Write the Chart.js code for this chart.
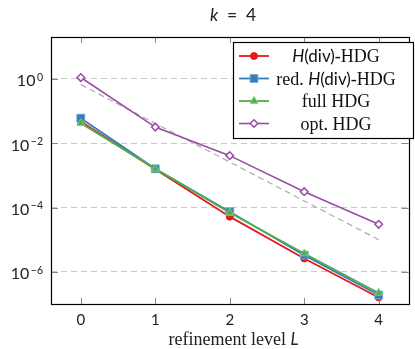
<!DOCTYPE html>
<html>
<head>
<meta charset="utf-8">
<script src="https://cdn.jsdelivr.net/npm/chart.js@4.4.0/dist/chart.umd.min.js"></script>
<style>
  html, body { margin: 0; padding: 0; background: #fff; }
  #wrap { width: 415px; height: 349px; }
</style>
</head>
<body>
<div id="wrap"><canvas id="chart"></canvas></div>
<script>
// refinement levels and errors
const levels = [0, 1, 2, 3, 4];
const hdivHdg = [0.047, 1.55e-3, 5.2e-5, 2.6e-6, 1.6e-7];
const redHdivHdg = [0.060, 1.6e-3, 7.4e-5, 3.3e-6, 1.9e-7];
const fullHdg = [0.042, 1.6e-3, 6.9e-5, 3.7e-6, 2.2e-7];
const optHdg = [1.1, 0.0316, 4.1e-3, 3.1e-4, 3.0e-5];
const refRate = [0.66, 0.041, 2.6e-3, 1.6e-4, 1.0e-5];
const yTicks = [1, 1e-2, 1e-4, 1e-6];
const yTickExp = ['0', '\u22122', '\u22124', '\u22126'];

const SANS = 'Lato';
const SERIF = '"Liberation Serif"';

// legend label pieces: [text, font]
const legendLabels = [
  [['H', 'italic 17px ' + SANS], ['(div)', '17px ' + SANS], ['-HDG', '18px ' + SERIF]],
  [['red. ', '18px ' + SERIF], ['H', 'italic 17px ' + SANS], ['(div)', '17px ' + SANS], ['-HDG', '18px ' + SERIF]],
  [['full HDG', '18px ' + SERIF]],
  [['opt. HDG', '18px ' + SERIF]]
];

function pts(vals) {
  return levels.map((l, i) => ({ x: l, y: vals[i] }));
}

function drawPieces(ctx, pieces, cx, baseline) {
  let w = 0;
  pieces.forEach(p => { ctx.font = p[1]; w += ctx.measureText(p[0]).width; });
  let x = cx - w / 2;
  ctx.textAlign = 'left';
  ctx.textBaseline = 'alphabetic';
  pieces.forEach(p => {
    ctx.font = p[1];
    ctx.fillText(p[0], x, baseline);
    x += ctx.measureText(p[0]).width;
  });
}

const decor = {
  id: 'decor',
  afterDraw(chart) {
    const { ctx, chartArea: a, scales: { x, y } } = chart;
    ctx.save();

    // tick marks inside the frame
    ctx.strokeStyle = '#888';
    ctx.lineWidth = 1;
    ctx.beginPath();
    levels.forEach(v => {
      const px = Math.round(x.getPixelForValue(v)) + 0.5;
      ctx.moveTo(px, a.top); ctx.lineTo(px, a.top + 6);
      ctx.moveTo(px, a.bottom); ctx.lineTo(px, a.bottom - 6);
    });
    yTicks.forEach(v => {
      const py = Math.round(y.getPixelForValue(v)) + 0.5;
      ctx.moveTo(a.left, py); ctx.lineTo(a.left + 7, py);
      ctx.moveTo(a.right, py); ctx.lineTo(a.right - 7, py);
    });
    ctx.stroke();

    // frame
    ctx.strokeStyle = '#000';
    ctx.lineWidth = 1.2;
    ctx.strokeRect(Math.round(a.left) + 0.5, Math.round(a.top) + 0.5,
      Math.round(a.right - a.left), Math.round(a.bottom - a.top));

    // y tick labels 10^n
    ctx.fillStyle = '#222';
    ctx.textBaseline = 'alphabetic';
    yTicks.forEach((v, i) => {
      const py = y.getPixelForValue(v);
      ctx.font = '10.5px ' + SANS;
      ctx.textAlign = 'right';
      const ew = ctx.measureText(yTickExp[i]).width;
      ctx.fillText(yTickExp[i], 43, py + 1.8);
      ctx.font = '16px ' + SANS;
      ctx.fillText('10', 43 - ew - 1.5, py + 7.6);
    });

    // title
    ctx.fillStyle = '#222';
    drawPieces(ctx, [['k', 'italic 17.5px ' + SANS], ['\u2002=\u20024', '17.5px ' + SANS]], 233, 21);

    // x axis title
    drawPieces(ctx, [['refinement level ', '18px ' + SERIF], ['L', 'italic 17px ' + SANS]], 233.5, 345);

    // legend
    const lx = 233, ly = 42, lw = 180, lh = 96;
    ctx.fillStyle = '#fff';
    ctx.fillRect(lx, ly, lw, lh);
    ctx.strokeStyle = '#000';
    ctx.lineWidth = 1.2;
    ctx.strokeRect(lx + 0.5, ly + 0.5, lw, lh);
    chart.data.datasets.slice(0, 4).forEach((ds, i) => {
      const ry = ly + 14 + i * 22.5;
      ctx.strokeStyle = ds.borderColor;
      ctx.lineWidth = ds.borderWidth;
      ctx.beginPath();
      ctx.moveTo(239, ry); ctx.lineTo(269, ry);
      ctx.stroke();
      ctx.fillStyle = ds.pointBackgroundColor;
      ctx.strokeStyle = ds.pointBorderColor;
      ctx.lineWidth = ds.pointBorderWidth;
      Chart.helpers.drawPoint(ctx, {
        pointStyle: ds.pointStyle, radius: ds.pointRadius, rotation: 0, borderWidth: ds.pointBorderWidth
      }, 254, ry);
      ctx.fillStyle = '#111';
      drawPieces(ctx, legendLabels[i], 336, ry + 6);
    });

    ctx.restore();
  }
};

new Chart(document.getElementById('chart'), {
  type: 'line',
  data: {
    datasets: [
      {
        label: 'H(div)-HDG', data: pts(hdivHdg), order: 4,
        borderColor: '#e41a1c', borderWidth: 1.8,
        pointStyle: 'circle', pointRadius: 3.5,
        pointBackgroundColor: '#e41a1c', pointBorderColor: '#e41a1c', pointBorderWidth: 1
      },
      {
        label: 'red. H(div)-HDG', data: pts(redHdivHdg), order: 3,
        borderColor: '#377eb8', borderWidth: 1.8,
        pointStyle: 'rect', pointRadius: 5.5,
        pointBackgroundColor: '#377eb8', pointBorderColor: '#6fa3d2', pointBorderWidth: 1
      },
      {
        label: 'full HDG', data: pts(fullHdg), order: 2,
        borderColor: '#4daf4a', borderWidth: 1.8,
        pointStyle: 'triangle', pointRadius: 4.5,
        pointBackgroundColor: '#4daf4a', pointBorderColor: '#7fc97c', pointBorderWidth: 1
      },
      {
        label: 'opt. HDG', data: pts(optHdg), order: 1,
        borderColor: '#984ea3', borderWidth: 1.6,
        pointStyle: 'rectRot', pointRadius: 3.8,
        pointBackgroundColor: '#ffffff', pointBorderColor: '#984ea3', pointBorderWidth: 1.5
      },
      {
        label: 'rate', data: pts(refRate), order: 5,
        borderColor: '#aaaaaa', borderWidth: 1.2, borderDash: [6, 4],
        pointRadius: 0
      }
    ]
  },
  options: {
    responsive: true,
    maintainAspectRatio: false,
    animation: false,
    layout: { padding: { top: 37, right: 0, left: 0, bottom: 0 } },
    plugins: {
      legend: { display: false },
      title: { display: false },
      tooltip: { enabled: false }
    },
    scales: {
      x: {
        type: 'linear',
        min: -0.4,
        max: 4.4,
        afterBuildTicks: s => { s.ticks = levels.map(v => ({ value: v })); },
        afterFit: s => { s.height = 45; },
        grid: { display: false, drawTicks: false },
        border: { display: false },
        ticks: { color: '#222', padding: 7, font: { family: SANS, size: 15 } }
      },
      y: {
        type: 'logarithmic',
        min: 1e-7,
        max: 20,
        afterBuildTicks: s => { s.ticks = yTicks.map(v => ({ value: v })); },
        afterFit: s => { s.width = 51; },
        grid: { color: '#c8c8c8', lineWidth: 1, drawTicks: false, borderDash: [6, 4] },
        border: { display: false, dash: [6, 4] },
        ticks: { display: false }
      }
    }
  },
  plugins: [decor]
});
</script>
</body>
</html>
